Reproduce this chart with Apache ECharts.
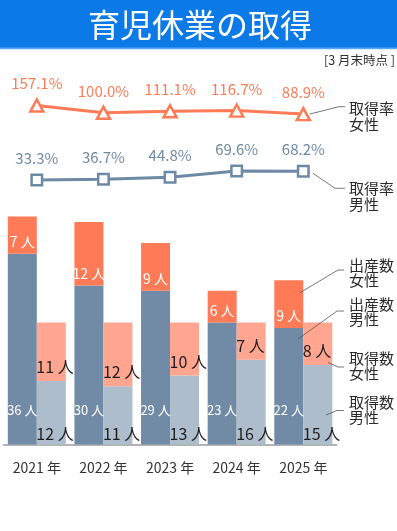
<!DOCTYPE html>
<html>
<head>
<meta charset="utf-8">
<script src="https://cdn.jsdelivr.net/npm/echarts@6/dist/echarts.min.js"></script>
<style>
html,body{margin:0;padding:0;background:#fff;}
#main{width:397px;height:531px;}
</style>
</head>
<body>
<div id="main"></div>
<script>
const years = ['2021 年', '2022 年', '2023 年', '2024 年', '2025 年'];
const rateFemale = [157.1, 100.0, 111.1, 116.7, 88.9];
const rateMale = [33.3, 36.7, 44.8, 69.6, 68.2];
const birthMale = [36, 30, 29, 23, 22];
const birthFemale = [7, 12, 9, 6, 9];
const takeMale = [12, 11, 13, 16, 15];
const takeFemale = [11, 12, 10, 7, 8];

const FONT = '"Noto Sans CJK JP", "Noto Sans", sans-serif';
const C_ORANGE = '#ff7b57';
const C_ORANGE_L = '#ffa590';
const C_SLATE = '#718ba6';
const C_SLATE_L = '#adbdcc';
const C_LINE_SLATE = '#6e89a5';

const chart = echarts.init(document.getElementById('main'), null, {renderer: 'canvas'});

const gridL = 3.5, gridR = 60.4;

function legendText(txt, y) {
  return {type: 'text', z: 100, style: {text: txt, x: 349, y: y, font: '15px ' + FONT, fill: '#2a2a2a', lineHeight: 15.5, verticalAlign: 'top', align: 'left'}};
}
function leader(pts) {
  return {type: 'polyline', z: 100, shape: {points: pts}, style: {stroke: '#555', lineWidth: 0.8, fill: null}};
}

const option = {
  animation: false,
  backgroundColor: '#fff',
  textStyle: {fontFamily: FONT},
  grid: [
    {left: gridL, right: gridR, top: 206, bottom: 86.5},
    {left: gridL, right: gridR, top: 87.3, bottom: 405.6},
    {left: gridL, right: gridR, top: 163.3, bottom: 342.6}
  ],
  xAxis: [
    {type: 'category', gridIndex: 0, data: years,
      axisLine: {lineStyle: {color: '#9a9a9a', width: 1.5}},
      axisTick: {show: false},
      axisLabel: {color: '#333', fontSize: 14, margin: 16, fontFamily: FONT}},
    {type: 'category', gridIndex: 1, data: years, show: false},
    {type: 'category', gridIndex: 2, data: years, show: false}
  ],
  yAxis: [
    {type: 'value', gridIndex: 0, min: 0, max: 45, show: false},
    {type: 'value', gridIndex: 1, min: 0, max: 300, show: false},
    {type: 'value', gridIndex: 2, min: 0, max: 100, show: false}
  ],
  series: [
    {name: '出産数男性', type: 'bar', stack: 'birth', xAxisIndex: 0, yAxisIndex: 0,
      data: birthMale, barWidth: 29, barGap: '0%',
      itemStyle: {color: C_SLATE},
      label: {show: true, position: 'insideBottom', distance: 28, color: '#fff', fontSize: 13, fontFamily: FONT,
        formatter: p => p.value + ' 人'}},
    {name: '出産数女性', type: 'bar', stack: 'birth', xAxisIndex: 0, yAxisIndex: 0,
      data: birthFemale, barWidth: 29, barGap: '0%',
      itemStyle: {color: C_ORANGE},
      label: {show: true, position: 'insideBottom', distance: 5, color: '#fff', fontSize: 14, fontFamily: FONT,
        formatter: p => p.value + ' 人'}},
    {name: '取得数男性', type: 'bar', stack: 'take', xAxisIndex: 0, yAxisIndex: 0,
      data: takeMale, barWidth: 29, barGap: '0%',
      itemStyle: {color: C_SLATE_L},
      label: {show: true, position: [0, '100%'], align: 'left', verticalAlign: 'bottom', offset: [-0.5, -3],
        color: '#1e1e1e', fontSize: 16, fontFamily: FONT, formatter: p => p.value + ' 人'}},
    {name: '取得数女性', type: 'bar', stack: 'take', xAxisIndex: 0, yAxisIndex: 0,
      data: takeFemale, barWidth: 29, barGap: '0%',
      itemStyle: {color: C_ORANGE_L},
      label: {show: true, position: [0, '100%'], align: 'left', verticalAlign: 'bottom', offset: [-0.5, -6],
        color: '#1e1e1e', fontSize: 16, fontFamily: FONT, formatter: p => p.value + ' 人'}},
    {name: '取得率女性', type: 'line', xAxisIndex: 1, yAxisIndex: 1, data: rateFemale,
      symbol: 'triangle', symbolSize: [13, 12], showAllSymbol: true,
      lineStyle: {color: C_ORANGE, width: 3},
      itemStyle: {color: '#fff', borderColor: C_ORANGE, borderWidth: 2.5},
      label: {show: true, position: 'top', distance: 7, color: C_ORANGE, fontSize: 15, fontFamily: FONT,
        formatter: p => p.value.toFixed(1) + '%'}},
    {name: '取得率男性', type: 'line', xAxisIndex: 2, yAxisIndex: 2, data: rateMale,
      symbol: 'rect', symbolSize: 10.5, showAllSymbol: true,
      lineStyle: {color: C_LINE_SLATE, width: 3},
      itemStyle: {color: '#fff', borderColor: C_LINE_SLATE, borderWidth: 2.5},
      label: {show: true, position: 'top', distance: 8, color: C_LINE_SLATE, fontSize: 15, fontFamily: FONT,
        formatter: p => p.value.toFixed(1) + '%'}}
  ],
  graphic: [
    {type: 'rect', z: 90, shape: {x: 0, y: 0, width: 397, height: 48}, style: {fill: '#0b7ae6'}},
    {type: 'rect', z: 90, shape: {x: 0, y: 47.5, width: 397, height: 1.8}, style: {fill: '#5aa8f2'}},
    {type: 'text', z: 100, style: {text: '育児休業の取得', x: 200, y: 24.5, font: '32px ' + FONT, fill: '#fff', align: 'center', verticalAlign: 'middle'}},
    {type: 'text', z: 100, style: {text: '[3 月末時点 ]', x: 395, y: 60.5, font: '12.5px ' + FONT, fill: '#333', align: 'right', verticalAlign: 'middle'}},
    legendText('取得率\n女性', 100.8),
    legendText('取得率\n男性', 180.8),
    legendText('出産数\n女性', 257.5),
    legendText('出産数\n男性', 296.5),
    legendText('取得数\n女性', 350.2),
    legendText('取得数\n男性', 394.2),
    leader([[310, 114], [339, 106.7], [345, 106.7]]),
    leader([[313, 173.3], [335, 188.3], [345, 188.3]]),
    leader([[300, 292.7], [338, 270], [344, 270]]),
    leader([[298, 339], [337, 311], [344, 311]]),
    leader([[328, 362.5], [338, 367], [344, 367]]),
    leader([[326, 415], [337, 410.5], [344, 410.5]])
  ]
};
chart.setOption(option);
</script>
</body>
</html>
